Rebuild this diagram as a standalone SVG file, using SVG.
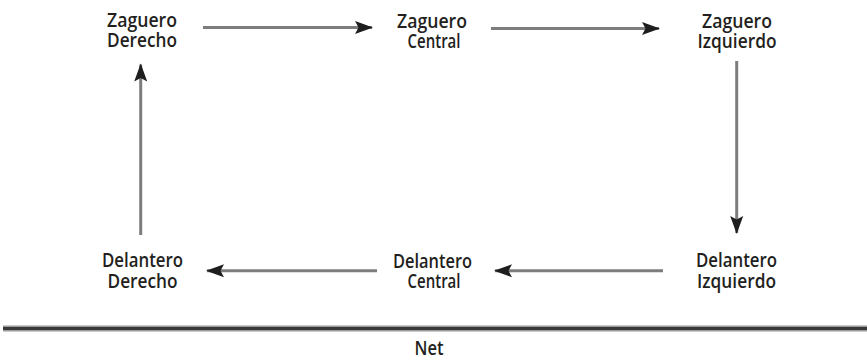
<svg xmlns="http://www.w3.org/2000/svg" width="867" height="361" viewBox="0 0 867 361">
<defs>
<style>
.lbl{font-family:"Open Sans","Liberation Sans",sans-serif;font-weight:600;font-size:19px;fill:#231f20;text-anchor:middle}
.conn{stroke:#7d7d7d;stroke-width:3;fill:none;marker-end:url(#ah)}
</style>
<marker id="ah" markerUnits="userSpaceOnUse" markerWidth="19" markerHeight="15" refX="17" refY="7.5" orient="auto" viewBox="0 0 19 15">
<path d="M0,1 L18,7.5 L0,14 L3.5,7.5 Z" fill="#1e1e1e"/>
</marker>
</defs>
<rect width="867" height="361" fill="#ffffff"/>
<g id="zaguero-derecho">
<text class="lbl"><tspan x="142" y="27" textLength="70" lengthAdjust="spacingAndGlyphs">Zaguero</tspan><tspan x="142" y="47" textLength="70" lengthAdjust="spacingAndGlyphs">Derecho</tspan></text>
</g>
<g id="zaguero-central">
<text class="lbl"><tspan x="432" y="28" textLength="70" lengthAdjust="spacingAndGlyphs">Zaguero</tspan><tspan x="434" y="48" textLength="53" lengthAdjust="spacingAndGlyphs">Central</tspan></text>
</g>
<g id="zaguero-izquierdo">
<text class="lbl"><tspan x="737" y="28" textLength="70" lengthAdjust="spacingAndGlyphs">Zaguero</tspan><tspan x="737" y="48" textLength="79" lengthAdjust="spacingAndGlyphs">Izquierdo</tspan></text>
</g>
<g id="delantero-derecho">
<text class="lbl"><tspan x="142.5" y="267" textLength="81" lengthAdjust="spacingAndGlyphs">Delantero</tspan><tspan x="142.5" y="288" textLength="70" lengthAdjust="spacingAndGlyphs">Derecho</tspan></text>
</g>
<g id="delantero-central">
<text class="lbl"><tspan x="432.5" y="268" textLength="79" lengthAdjust="spacingAndGlyphs">Delantero</tspan><tspan x="434" y="288" textLength="53" lengthAdjust="spacingAndGlyphs">Central</tspan></text>
</g>
<g id="delantero-izquierdo">
<text class="lbl"><tspan x="736.5" y="267" textLength="81" lengthAdjust="spacingAndGlyphs">Delantero</tspan><tspan x="736.5" y="288" textLength="79" lengthAdjust="spacingAndGlyphs">Izquierdo</tspan></text>
</g>
<g id="net">
<line x1="3" y1="328.5" x2="867" y2="328.5" stroke="#9a9a9a" stroke-width="6"/>
<line x1="3" y1="328.5" x2="867" y2="328.5" stroke="#3a3a3a" stroke-width="3"/>
<text class="lbl" x="429" y="355" textLength="29" lengthAdjust="spacingAndGlyphs">Net</text>
</g>
<g id="connectors">
<line class="conn" x1="203" y1="27.5" x2="372" y2="27.5"/>
<line class="conn" x1="491" y1="28.5" x2="659" y2="28.5"/>
<line class="conn" x1="736.7" y1="61" x2="736.7" y2="233"/>
<line class="conn" x1="663" y1="270.7" x2="495" y2="270.7"/>
<line class="conn" x1="377" y1="270.7" x2="207" y2="270.7"/>
<line class="conn" x1="140.7" y1="235" x2="140.7" y2="64.5"/>
</g>
</svg>
